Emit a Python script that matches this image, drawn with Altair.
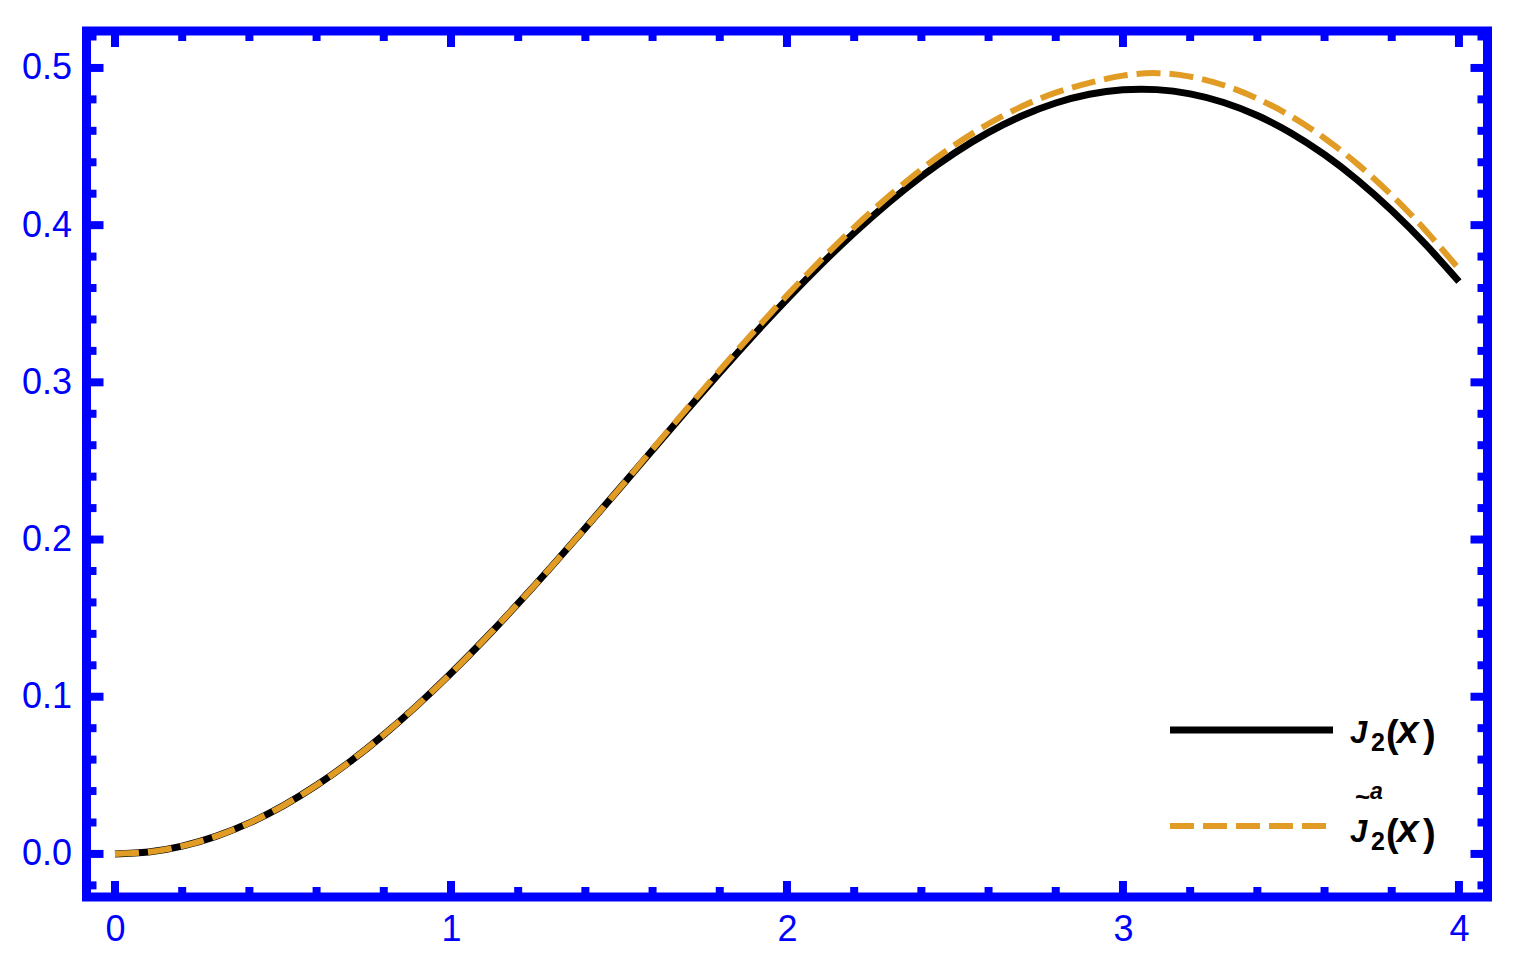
import altair as alt
import pandas as pd

# ---- data ----
xs = [0.0, 0.1, 0.2, 0.3, 0.4, 0.5, 0.6, 0.7, 0.8, 0.9, 1.0,
      1.1, 1.2, 1.3, 1.4, 1.5, 1.6, 1.7, 1.8, 1.9, 2.0,
      2.1, 2.2, 2.3, 2.4, 2.5, 2.6, 2.7, 2.8, 2.9, 3.0,
      3.1, 3.2, 3.3, 3.4, 3.5, 3.6, 3.7, 3.8, 3.9, 4.0]
j2 = [0.0, 0.00125, 0.00498, 0.01117, 0.01974, 0.03060, 0.04367, 0.05879, 0.07582, 0.09459, 0.11490,
      0.13656, 0.15935, 0.18303, 0.20736, 0.23209, 0.25697, 0.28174, 0.30614, 0.32993, 0.35283,
      0.37462, 0.39506, 0.41392, 0.43098, 0.44606, 0.45897, 0.46956, 0.47769, 0.48323, 0.48609,
      0.48621, 0.48353, 0.47803, 0.46972, 0.45863, 0.44481, 0.42833, 0.40930, 0.38786, 0.36413]
j2_approx = [0.0, 0.00125, 0.00498, 0.01117, 0.01974, 0.03060, 0.04367, 0.05879, 0.07582, 0.09459, 0.11490,
             0.13656, 0.15935, 0.18303, 0.20736, 0.23209, 0.2575, 0.2827, 0.3077, 0.3319, 0.3553,
             0.3776, 0.3986, 0.4179, 0.4355, 0.4511, 0.4645, 0.4756, 0.4843, 0.4905, 0.4951,
             0.4967, 0.4945, 0.4890, 0.4805, 0.4693, 0.4553, 0.4385, 0.4190, 0.3968, 0.3721]

x_major = [0, 1, 2, 3, 4]
x_minor = [0.2, 0.4, 0.6, 0.8, 1.2, 1.4, 1.6, 1.8, 2.2, 2.4, 2.6, 2.8,
           3.2, 3.4, 3.6, 3.8]
y_major = [0.0, 0.1, 0.2, 0.3, 0.4, 0.5]
y_minor = [-0.02, 0.02, 0.04, 0.06, 0.08, 0.12, 0.14, 0.16, 0.18, 0.22, 0.24,
           0.26, 0.28, 0.32, 0.34, 0.36, 0.38, 0.42, 0.44, 0.46, 0.48, 0.52]

# ---- layout / style ----
W, H = 1401, 866
OX, OY = 86.5, 31.0          # page position of plot origin
BLUE = "#0000FF"
ORANGE = "#E09C24"
FONT = "Liberation Sans"

x_scale = alt.Scale(domain=[-0.0848, 4.085], nice=False, zero=False)
y_scale = alt.Scale(domain=[-0.0274, 0.5235], nice=False, zero=False)

x_axis = alt.Axis(values=x_major, format="d", labelFont=FONT, labelFontSize=36,
                  labelColor=BLUE, ticks=False, tickSize=0, domain=False, grid=False,
                  labelPadding=15, title=None, labelFlush=False, labelOverlap=False)
y_axis = alt.Axis(values=y_major, format=".1f", labelFont=FONT, labelFontSize=36,
                  labelColor=BLUE, ticks=False, tickSize=0, domain=False, grid=False,
                  labelPadding=15, title=None, labelFlush=False, labelOverlap=False)

df = pd.DataFrame({"x": xs, "j2": j2, "ja": j2_approx})

X = alt.X("x:Q", scale=x_scale, axis=x_axis)
Y_j2 = alt.Y("j2:Q", scale=y_scale, axis=y_axis)
Y_ja = alt.Y("ja:Q", scale=y_scale, axis=y_axis)

black_line = alt.Chart(df).mark_line(color="black", strokeWidth=7, interpolate="natural",
                                     strokeCap="butt").encode(x=X, y=Y_j2)
orange_line = alt.Chart(df).mark_line(color=ORANGE, strokeWidth=6, interpolate="natural",
                                      strokeDash=[24, 9], strokeCap="butt").encode(x=X, y=Y_ja)

def xticks(vals, length):
    d = pd.DataFrame({"x": vals})
    bottom = alt.Chart(d).mark_rule(color=BLUE, strokeWidth=8).encode(
        x=X, y=alt.value(H), y2=alt.value(H - length))
    top = alt.Chart(d).mark_rule(color=BLUE, strokeWidth=8).encode(
        x=X, y=alt.value(0), y2=alt.value(length))
    return [bottom, top]

def yticks(vals, length):
    d = pd.DataFrame({"y": vals})
    Yt = alt.Y("y:Q", scale=y_scale, axis=y_axis)
    left = alt.Chart(d).mark_rule(color=BLUE, strokeWidth=8).encode(
        y=Yt, x=alt.value(0), x2=alt.value(length))
    right = alt.Chart(d).mark_rule(color=BLUE, strokeWidth=8).encode(
        y=Yt, x=alt.value(W), x2=alt.value(W - length))
    return [left, right]

tick_layers = xticks(x_major, 16) + xticks(x_minor, 10) + yticks(y_major, 17) + yticks(y_minor, 10)

one = pd.DataFrame({"a": [0]})
leg_black = alt.Chart(one).mark_rule(color="black", strokeWidth=7, strokeCap="butt").encode(
    x=alt.value(1170 - OX), x2=alt.value(1333 - OX), y=alt.value(730 - OY))
leg_orange = alt.Chart(one).mark_rule(color=ORANGE, strokeWidth=6, strokeCap="butt",
                                      strokeDash=[24, 9]).encode(
    x=alt.value(1170 - OX), x2=alt.value(1326 - OX), y=alt.value(826 - OY))

# legend text pieces: (text, size, italic, page_x, page_baseline)
pieces = []
for dy in (0, 99):
    pieces += [
        ("J", 31, True, 1350, 743 + dy),
        ("2", 25, False, 1371, 751 + dy),
        ("(", 38, False, 1386, 747 + dy),
        ("x", 39, True, 1397, 743 + dy),
        (")", 38, False, 1423, 747 + dy),
    ]
pieces += [("~", 26, False, 1355, 806), ("a", 23, True, 1370, 799)]

text_layers = []
for t, s, it, px, py in pieces:
    kw = dict(text=t, font=FONT, fontSize=s, align="left", baseline="alphabetic",
              color="black", fontWeight="bold")
    if it:
        kw["fontStyle"] = "italic"
    text_layers.append(alt.Chart(one).mark_text(**kw).encode(
        x=alt.value(px - OX), y=alt.value(py - OY)))

chart = alt.layer(
    *tick_layers, black_line, orange_line, leg_black, leg_orange, *text_layers
).properties(
    width=W, height=H,
    autosize=alt.AutoSizeParams(type="none"),
    padding={"left": OX - 8, "top": OY - 8, "right": 20, "bottom": 50},
).configure_view(stroke=BLUE, strokeWidth=9)

chart.save("out.html", embed_options={"renderer": "svg", "actions": False})
